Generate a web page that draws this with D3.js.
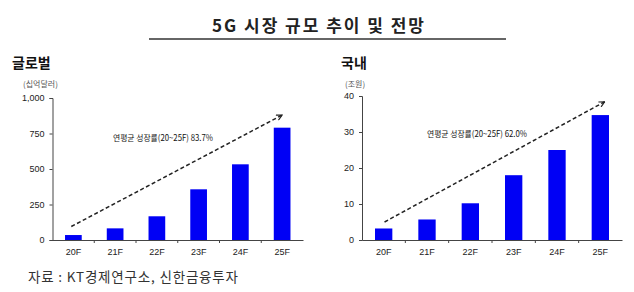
<!DOCTYPE html>
<meta charset="utf-8">
<style>
  body { margin: 0; background: #fff; }
  text { font-family: "Liberation Sans", Arial, sans-serif; }
  .kr { font-family: "Noto Sans CJK KR", sans-serif; }
</style>
<svg width="634" height="292"></svg>

<script src="https://d3js.org/d3.v7.min.js"></script>
<script>
var categories = ["20F", "21F", "22F", "23F", "24F", "25F"]

var globalValues = [35, 82, 167, 357, 533, 791]
var globalTicks = [0, 250, 500, 750, 1000]

var koreaValues = [3.2, 5.7, 10.2, 18, 25, 34.7]
var koreaTicks = [0, 10, 20, 30, 40]

var svg = d3.select('svg')

// title + underline
svg.append('text')
  .attr('class', 'kr')
  .attr('x', 318).attr('y', 32)
  .attr('text-anchor', 'middle')
  .attr('font-size', 17).attr('font-weight', 'bold')
  .attr('fill', '#222')
  .attr('textLength', 212).attr('lengthAdjust', 'spacing')
  .text('5G 시장 규모 추이 및 전망')

svg.append('line')
  .attr('x1', 149).attr('x2', 506)
  .attr('y1', 39).attr('y2', 39)
  .attr('stroke', '#333').attr('stroke-width', 1.5)

svg.append('defs').append('marker')
  .attr('id', 'head')
  .attr('viewBox', '0 0 10 10')
  .attr('refX', 9).attr('refY', 5)
  .attr('markerWidth', 7).attr('markerHeight', 7)
  .attr('markerUnits', 'userSpaceOnUse')
  .attr('orient', 'auto')
  .append('path')
  .attr('d', 'M1,1 L9,5 L1,9')
  .attr('fill', 'none').attr('stroke', '#222').attr('stroke-width', 1.6)

function drawPanel(cfg) {
  var g = svg.append('g')

  g.append('text')
    .attr('class', 'kr')
    .attr('x', cfg.titleX).attr('y', 68)
    .attr('font-size', 14).attr('font-weight', 'bold')
    .attr('fill', '#111')
    .text(cfg.title)

  g.append('text')
    .attr('class', 'kr')
    .attr('x', cfg.unitX).attr('y', 87)
    .attr('font-size', 8).attr('fill', '#555')
    .text(cfg.unit)

  var x = d3.scaleBand().domain(categories).range(cfg.xRange)
  var y = d3.scaleLinear().domain([0, cfg.max]).range([240, cfg.yTop])

  var yAxis = g.append('g')
    .attr('transform', 'translate(' + cfg.xRange[0] + ',0)')
    .call(d3.axisLeft(y).tickValues(cfg.ticks).tickSize(3).tickPadding(5)
      .tickFormat(d3.format(',')))
  var xAxis = g.append('g')
    .attr('transform', 'translate(0,240)')
    .call(d3.axisBottom(x).tickSize(0).tickPadding(9))

  // tick marks between categories
  xAxis.selectAll('.bnd')
    .data(categories.slice(1))
    .enter().append('line')
    .attr('x1', function (d) { return x(d) }).attr('x2', function (d) { return x(d) })
    .attr('y1', 0).attr('y2', 3)
    .attr('stroke', '#444')

  ;[yAxis, xAxis].forEach(function (a) {
    a.select('.domain').attr('stroke', '#444')
    a.selectAll('.tick line').attr('stroke', '#444')
    a.selectAll('text').attr('font-size', 9).attr('fill', '#222')
      .attr('font-family', '"Liberation Sans", Arial, sans-serif')
  })

  var bw = x.bandwidth() * 0.4
  g.selectAll('.bar')
    .data(cfg.values)
    .enter().append('rect')
    .attr('x', function (d, i) { return x(categories[i]) + (x.bandwidth() - bw) / 2 })
    .attr('y', function (d) { return y(d) })
    .attr('width', bw)
    .attr('height', function (d) { return 240 - y(d) })
    .attr('fill', '#0000f5')

  var a = cfg.arrow
  g.append('line')
    .attr('x1', x(a[0].cat) + x.bandwidth() * a[0].dx)
    .attr('y1', y(a[0].v))
    .attr('x2', x(a[1].cat) + x.bandwidth() * a[1].dx)
    .attr('y2', y(a[1].v))
    .attr('stroke', '#222').attr('stroke-width', 1.5)
    .attr('stroke-dasharray', '4,2.5')
    .attr('marker-end', 'url(#head)')

  g.append('text')
    .attr('class', 'kr')
    .attr('x', cfg.noteX).attr('y', y(cfg.noteV))
    .attr('font-size', 8.5).attr('fill', '#111')
    .attr('textLength', 100).attr('lengthAdjust', 'spacingAndGlyphs')
    .text(cfg.note)
}

drawPanel({
  title: '글로벌', titleX: 12, unit: '(십억달러)', unitX: 23,
  xRange: [52.5, 303], yTop: 98, max: 1000, ticks: globalTicks,
  values: globalValues,
  arrow: [{ cat: '20F', dx: 0.45, v: 95 }, { cat: '25F', dx: 0.5, v: 880 }],
  note: '연평균 성장률(20~25F) 83.7%', noteX: 113, noteV: 695
})

drawPanel({
  title: '국내', titleX: 341, unit: '(조원)', unitX: 345,
  xRange: [362, 622], yTop: 96, max: 40, ticks: koreaTicks,
  values: koreaValues,
  arrow: [{ cat: '20F', dx: 0.52, v: 5 }, { cat: '25F', dx: 0.6, v: 38.4 }],
  note: '연평균 성장률(20~25F) 62.0%', noteX: 427, noteV: 28.6
})

svg.append('text')
  .attr('class', 'kr')
  .attr('x', 28).attr('y', 282)
  .attr('font-size', 13.5).attr('fill', '#333')
  .attr('textLength', 210).attr('lengthAdjust', 'spacing')
  .text('자료 : KT경제연구소, 신한금융투자')
</script>
